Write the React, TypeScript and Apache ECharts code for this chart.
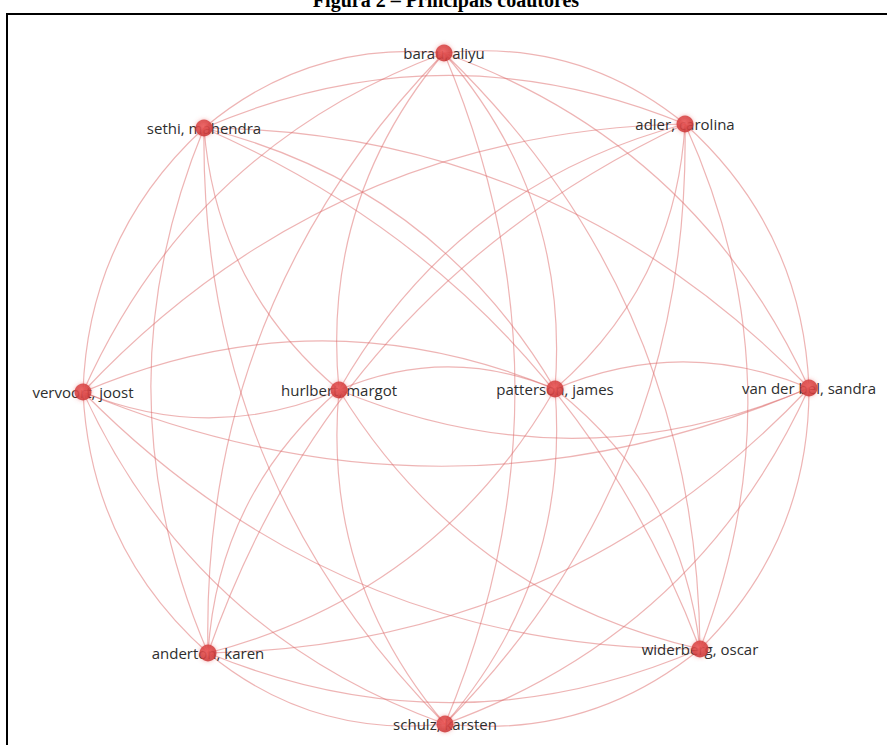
import React, { useEffect, useRef } from "react";
import * as echarts from "echarts";

const nodeNames = [
  "barau, aliyu",
  "sethi, mahendra",
  "adler, carolina",
  "vervoort, joost",
  "hurlbert, margot",
  "patterson, james",
  "van der bel, sandra",
  "anderton, karen",
  "widerberg, oscar",
  "schulz, karsten",
];
const nodeX = [444, 204, 685, 83, 339, 555, 809, 208, 700, 445];
const nodeY = [53, 128, 124, 392, 390, 389, 388, 653, 649, 724];

// Arcs whose bending side is read from the picture (otherwise arcs bulge outward)
// [a, b, hintX, hintY]
const bendHints: [number, number, number, number][] = [
  [3, 4, 0, 1],
  [3, 5, 0, -1],
  [3, 6, 0, 1],
  [4, 5, 0, -1],
  [4, 6, 0, 1],
  [5, 6, 0, -1],
  [0, 9, 1, 0],
  [2, 7, -1, -1],
  [1, 8, 1, -1],
];

const titleText = "Figura 2 – Principais coautores";
const CURVE = 0.21;

export default function App() {
  const ref = useRef<HTMLDivElement>(null);
  useEffect(() => {
    if (!ref.current) return;
    const chart = echarts.init(ref.current, undefined, { renderer: "svg" });
    const cx = (Math.min(...nodeX) + Math.max(...nodeX)) / 2;
    const cy = (Math.min(...nodeY) + Math.max(...nodeY)) / 2;

    const links: any[] = [];
    for (let a = 0; a < nodeNames.length; a++) {
      for (let b = a + 1; b < nodeNames.length; b++) {
        const dx = nodeY[b] - nodeY[a];
        const dy = nodeX[a] - nodeX[b];
        const hint = bendHints.find((h) => (h[0] === a && h[1] === b) || (h[0] === b && h[1] === a));
        let hx: number, hy: number;
        if (hint) {
          hx = hint[2];
          hy = hint[3];
        } else {
          hx = (nodeX[a] + nodeX[b]) / 2 - cx;
          hy = (nodeY[a] + nodeY[b]) / 2 - cy;
        }
        const s = dx * hx + dy * hy >= 0 ? 1 : -1;
        links.push({
          source: a,
          target: b,
          lineStyle: { curveness: CURVE * s },
        });
      }
    }

    const box = { left: 83, top: 53, right: 887 - 809, bottom: 745 - 724 };

    const labelNodes = nodeNames.map((n, i) => ({
      name: n,
      x: nodeX[i],
      y: nodeY[i],
    }));
    const dotNodes = nodeNames.map((n, i) => ({
      name: n + " ",
      x: nodeX[i],
      y: nodeY[i],
    }));

    chart.setOption({
      animation: false,
      backgroundColor: "#ffffff",
      graphic: [
        {
          type: "rect",
          shape: { x: 7, y: 14, width: 900, height: 800 },
          style: { fill: "none", stroke: "#000", lineWidth: 2 },
          silent: true,
          z: 0,
        },
        {
          type: "text",
          x: 446,
          y: 10,
          style: {
            text: titleText,
            fontSize: 20,
            fontWeight: "bold",
            fontFamily: "Liberation Serif",
            fill: "#000",
            align: "center",
            verticalAlign: "bottom",
          },
          z: 10,
        },
      ],
      series: [
        {
          type: "graph",
          layout: "none",
          ...box,
          silent: true,
          z: 2,
          symbol: "circle",
          symbolSize: 17,
          itemStyle: { color: "rgba(0,0,0,0)" },
          label: {
            show: true,
            position: "inside",
            color: "#2e2e2e",
            fontSize: 15,
            fontFamily: "Open Sans",
          },
          lineStyle: { color: "rgba(222,105,105,0.5)", width: 1.2, opacity: 1 },
          emphasis: { disabled: true },
          data: labelNodes,
          links,
        },
        {
          type: "graph",
          layout: "none",
          ...box,
          silent: true,
          z: 3,
          symbol: "circle",
          symbolSize: 17,
          itemStyle: {
            color: new echarts.graphic.RadialGradient(0.45, 0.4, 0.6, [
              { offset: 0, color: "#ec5a5a" },
              { offset: 1, color: "#c93434" },
            ]),
            opacity: 0.85,
            shadowBlur: 4,
            shadowColor: "rgba(230,80,80,0.5)",
          },
          label: { show: false },
          emphasis: { disabled: true },
          data: dotNodes,
          links: [],
        },
      ],
    });
    return () => chart.dispose();
  }, []);
  return (
    <div
      ref={ref}
      style={{ position: "fixed", left: 0, top: 0, width: 887, height: 745 }}
    />
  );
}
